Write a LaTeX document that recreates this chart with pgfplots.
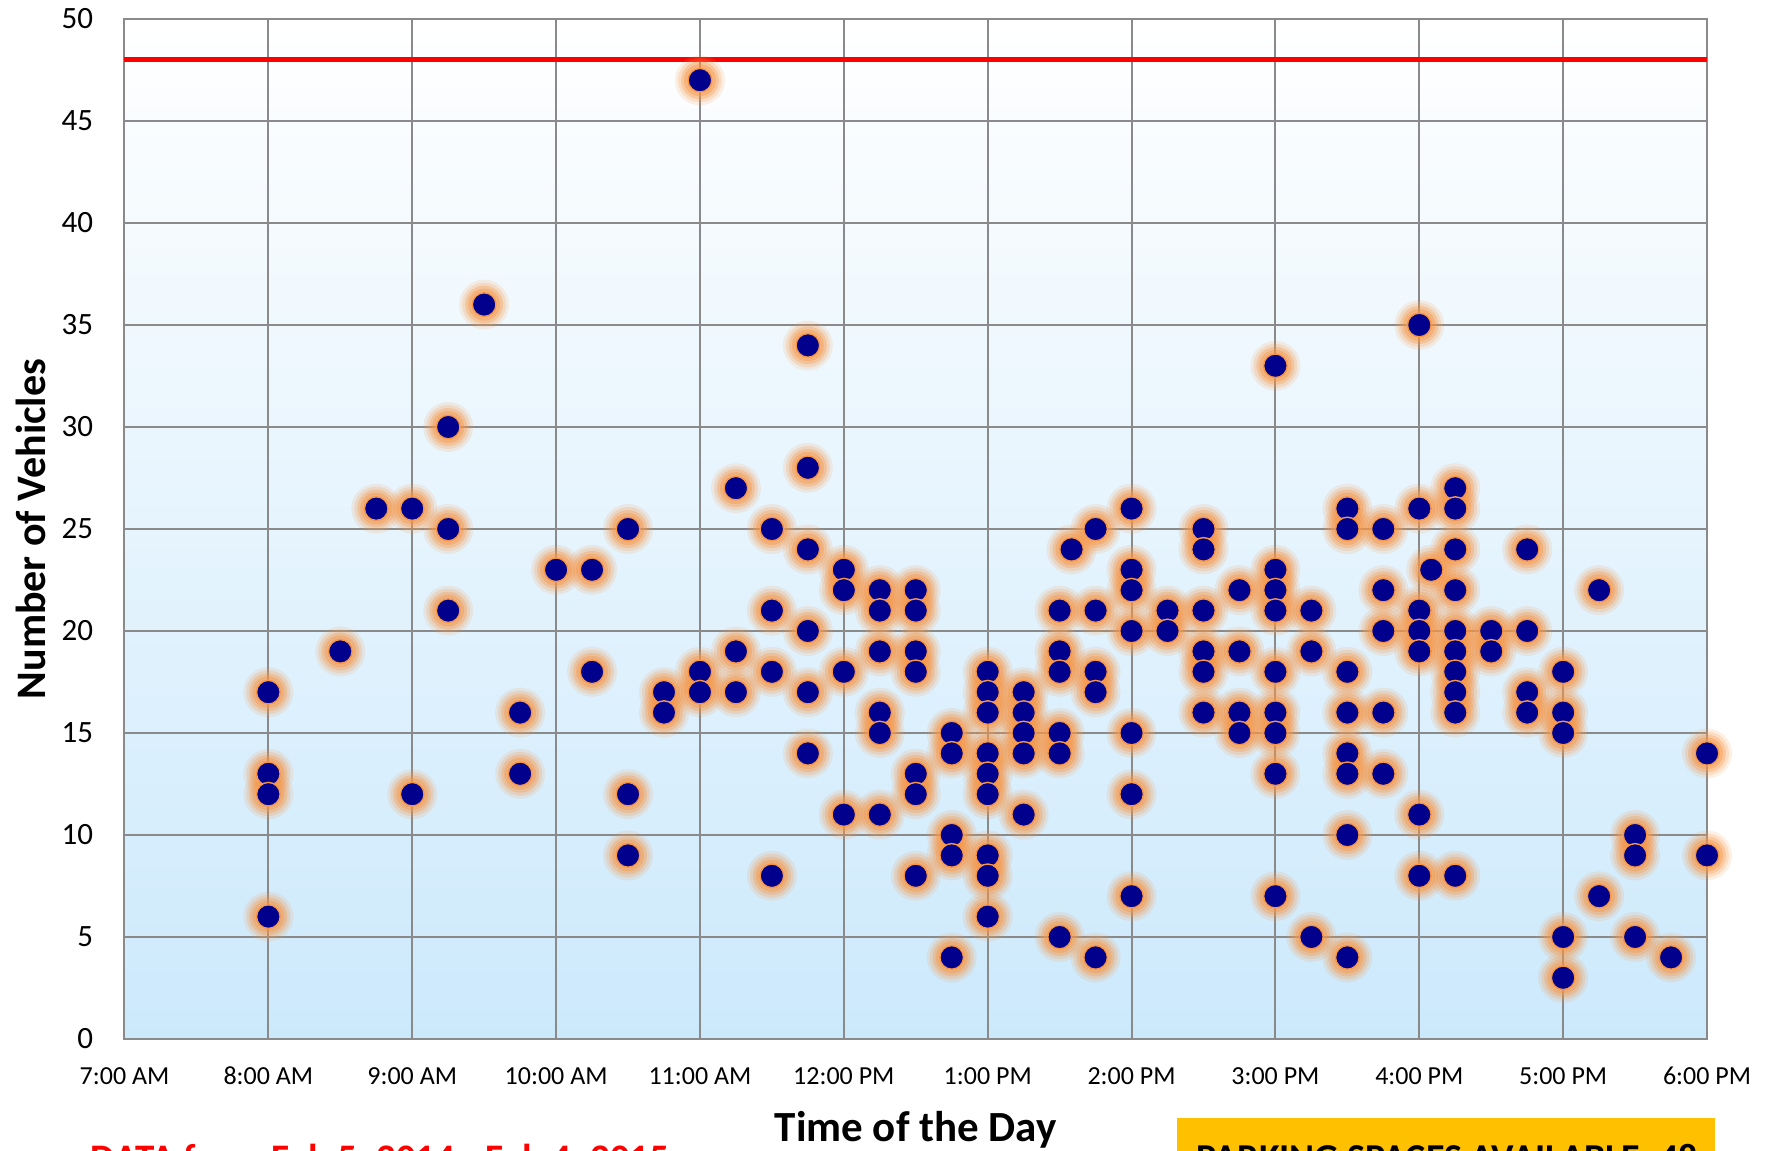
\documentclass[border=0pt]{standalone}
\usepackage{fontspec}
\setmainfont{Carlito}
\usepackage{pgfplots}
\usepackage{pgfplotstable}
\pgfplotsset{compat=1.18}

\definecolor{gridgray}{RGB}{138,138,138}
\definecolor{dotnavy}{RGB}{0,0,140}
\definecolor{glow}{RGB}{247,150,70}
\definecolor{bgblue}{RGB}{204,233,252}
\definecolor{excelgold}{RGB}{255,192,0}

% time of day (hours, 24h) vs. vehicles parked
\pgfplotstableread{
t y
8 17
8 13
8 12
8 6
8.5 19
8.75 26
9 26
9 12
9.25 30
9.25 25
9.25 21
9.5 36
9.75 16
9.75 13
10 23
10.25 23
10.25 18
10.5 25
10.5 12
10.5 9
10.75 17
10.75 16
11 47
11 18
11 17
11.25 27
11.25 19
11.25 17
11.5 25
11.5 21
11.5 18
11.5 8
11.75 34
11.75 28
11.75 24
11.75 20
11.75 17
11.75 14
12 23
12 22
12 18
12 11
12.25 22
12.25 21
12.25 19
12.25 16
12.25 15
12.25 11
12.5 22
12.5 21
12.5 19
12.5 18
12.5 13
12.5 12
12.5 8
12.75 15
12.75 14
12.75 10
12.75 9
12.75 4
13 18
13 17
13 16
13 14
13 13
13 12
13 9
13 8
13 6
13.25 17
13.25 16
13.25 15
13.25 14
13.25 11
13.5 21
13.5 19
13.5 18
13.5 15
13.5 14
13.5 5
13.583 24
13.75 25
13.75 21
13.75 18
13.75 17
13.75 4
14 26
14 23
14 22
14 20
14 15
14 12
14 7
14.25 21
14.25 20
14.5 25
14.5 24
14.5 21
14.5 19
14.5 18
14.5 16
14.75 22
14.75 19
14.75 16
14.75 15
15 33
15 23
15 22
15 21
15 18
15 16
15 15
15 13
15 7
15.25 21
15.25 19
15.25 5
15.5 26
15.5 25
15.5 18
15.5 16
15.5 14
15.5 13
15.5 10
15.5 4
15.75 25
15.75 22
15.75 20
15.75 16
15.75 13
16 35
16 26
16 21
16 20
16 19
16 11
16 8
16.083 23
16.25 27
16.25 26
16.25 24
16.25 22
16.25 20
16.25 19
16.25 18
16.25 17
16.25 16
16.25 8
16.5 20
16.5 19
16.75 24
16.75 20
16.75 17
16.75 16
17 18
17 16
17 15
17 5
17 3
17.25 22
17.25 7
17.5 10
17.5 9
17.5 5
17.75 4
18 14
18 9
}\parking

\begin{document}
\begin{tikzpicture}
\begin{axis}[
    name=ax,
    scale only axis,
    width=791.25pt, height=510pt,
    xmin=7, xmax=18, ymin=0, ymax=50,
    clip=false,
    xtick={7,...,18},
    xticklabels={7:00 AM,8:00 AM,9:00 AM,10:00 AM,11:00 AM,12:00 PM,1:00 PM,2:00 PM,3:00 PM,4:00 PM,5:00 PM,6:00 PM},
    ytick={0,5,...,50},
    major tick length=0pt,
    grid=major,
    grid style={draw=gridgray, line width=1pt},
    axis line style={draw=gridgray, line width=1pt},
    axis background/.style={top color=white, bottom color=bgblue},
    /pgf/number format/assume math mode=true,
    xticklabel style={font=\fontsize{13}{15}\selectfont, anchor=base, inner sep=0pt, yshift=-22.5pt},
    yticklabel style={font=\fontsize{15.5}{18}\selectfont, anchor=east, inner sep=0pt, xshift=-15.5pt},
    glowmark/.style={only marks, mark=*, mark size=#1, color=glow,
        mark options={draw=none, fill=glow}},
]
% soft orange glow behind each dot
\addplot[glowmark=12.5pt, fill opacity=0.14, draw opacity=0] table[x=t, y=y] {\parking};
\addplot[glowmark=11pt, fill opacity=0.2, draw opacity=0] table[x=t, y=y] {\parking};
\addplot[glowmark=9.5pt, fill opacity=0.3, draw opacity=0] table[x=t, y=y] {\parking};
\addplot[glowmark=8pt, fill opacity=0.4, draw opacity=0] table[x=t, y=y] {\parking};
% capacity line
\addplot[red, line width=2.3pt] coordinates {(7,48) (18,48)};
\addplot[only marks, mark=*, mark size=5.9pt, mark options={draw=glow, line width=0.7pt, fill=dotnavy}] table[x=t, y=y] {\parking};
\end{axis}

\node[rotate=90, font=\fontsize{21}{25}\selectfont\bfseries] at ([xshift=-47pt]ax.west) {Number of Vehicles};
\node[anchor=base, inner sep=0pt, font=\fontsize{21.5}{25}\selectfont\bfseries] at ([yshift=-51pt]ax.south) {Time of the Day};
\node[anchor=base west, inner sep=0pt, text=red, font=\fontsize{19.5}{23}\selectfont\bfseries] at (-17pt,-66pt) {DATA from Feb 5, 2014 - Feb 4, 2015};
\fill[excelgold] (526pt,-39.5pt) rectangle (795pt,-70pt);
\node[anchor=base west, inner sep=0pt, font=\fontsize{19}{23}\selectfont\bfseries] at (536pt,-65.5pt) {PARKING SPACES AVAILABLE: 48};

\pgfresetboundingbox
\useasboundingbox (-62.25pt,-55.5pt) rectangle (825.25pt,519.5pt);
\end{tikzpicture}
\end{document}
